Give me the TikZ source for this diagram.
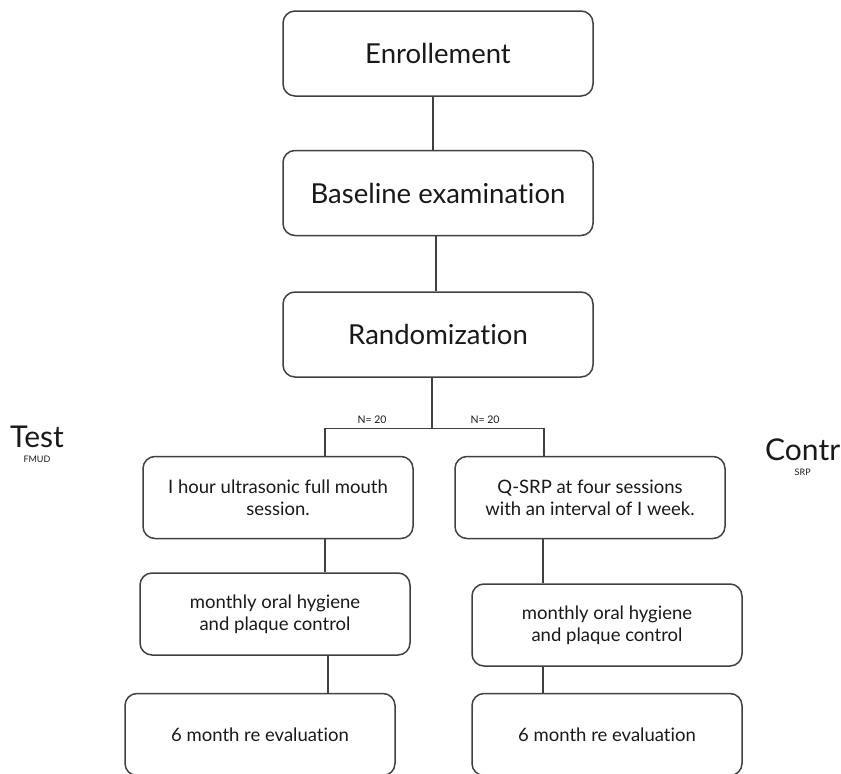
\documentclass[tikz,border=0pt]{standalone}
\usepackage{fontspec}
\setmainfont{Lato}[Ligatures=CommonOff]
\usepackage{tikz}
\usetikzlibrary{positioning, calc}

\begin{document}
\begin{tikzpicture}[
        x=1pt, y=1pt,
        font=\fontsize{18.5}{22}\selectfont,
        text=black!90,
        box/.style={
            draw=black!75,
            rounded corners=12pt,
            line width=1.5pt,
            align=center,
            inner sep=6pt
        },
        stage/.style={box, minimum width=310pt, minimum height=85pt,
            font=\fontsize{27.5}{32}\selectfont},
        arm/.style={box, minimum width=270pt, minimum height=82pt},
        link/.style={draw=black!75, line width=1.3pt},
        groupLabel/.style={font=\fontsize{30}{34}\selectfont, inner sep=0pt},
        subLabel/.style={font=\fontsize{9}{10}\selectfont, inner sep=0pt},
        countLabel/.style={font=\fontsize{10.5}{12}\selectfont, inner sep=1pt}
    ]

        \useasboundingbox (0,0) rectangle (841,-774);

        % ---- Nodes ----
        \node[stage] (enrol) at (438,-53.5) {Enrollement};
        \node[stage, below=53pt of enrol] (base) {Baseline examination};
        \node[stage, below=55pt of base] (rand) {Randomization};

        \node[arm] (t1) at (278,-497.5) {I hour ultrasonic full mouth\\session.};
        \node[arm, below=33pt of t1, xshift=-3pt] (t2) {monthly oral hygiene\\and plaque control};
        \node[arm, below=37pt of t2, xshift=-15pt] (t3) {6 month re evaluation};

        \node[arm] (c1) at (590,-497.5) {Q-SRP at four sessions\\with an interval of I week.};
        \node[arm, below=44pt of c1, xshift=17pt] (c2) {monthly oral hygiene\\and plaque control};
        \node[arm, below=26pt of c2] (c3) {6 month re evaluation};

        % ---- Group labels ----
        \node[groupLabel] (test) at (37,-437) {Test};
        \node[subLabel, below=8pt of test] (fmud) {FMUD};
        \node[groupLabel, anchor=west] (contr) at (765,-450) {Contr};
        \node[subLabel, below=8pt of contr] (srp) {SRP};

        % ---- Links ----
        \draw[link] ([xshift=-5pt]enrol.south) -- ([xshift=-5pt]base.north);
        \draw[link] ([xshift=-2pt]base.south) -- ([xshift=-2pt]rand.north);

        \coordinate (split) at ([xshift=-6pt, yshift=-50.5pt]rand.south);
        \draw[link] ([xshift=-6pt]rand.south) -- (split);
        \draw[link] (split) -| ([xshift=47pt]t1.north);
        \draw[link] (split) -| ([xshift=-46pt]c1.north);

        \node[countLabel, above=3pt of split, xshift=-60pt] (nt) {N= 20};
        \node[countLabel, above=3pt of split, xshift=53pt] (nc) {N= 20};

        \draw[link] ([xshift=47pt]t1.south) -- ([xshift=50pt]t2.north);
        \draw[link] ([xshift=53pt]t2.south) -- ([xshift=68pt]t3.north);
        \draw[link] ([xshift=-47pt]c1.south) -- ([xshift=-64pt]c2.north);
        \draw[link] ([xshift=-64pt]c2.south) -- ([xshift=-64pt]c3.north);

    \end{tikzpicture}
\end{document}
